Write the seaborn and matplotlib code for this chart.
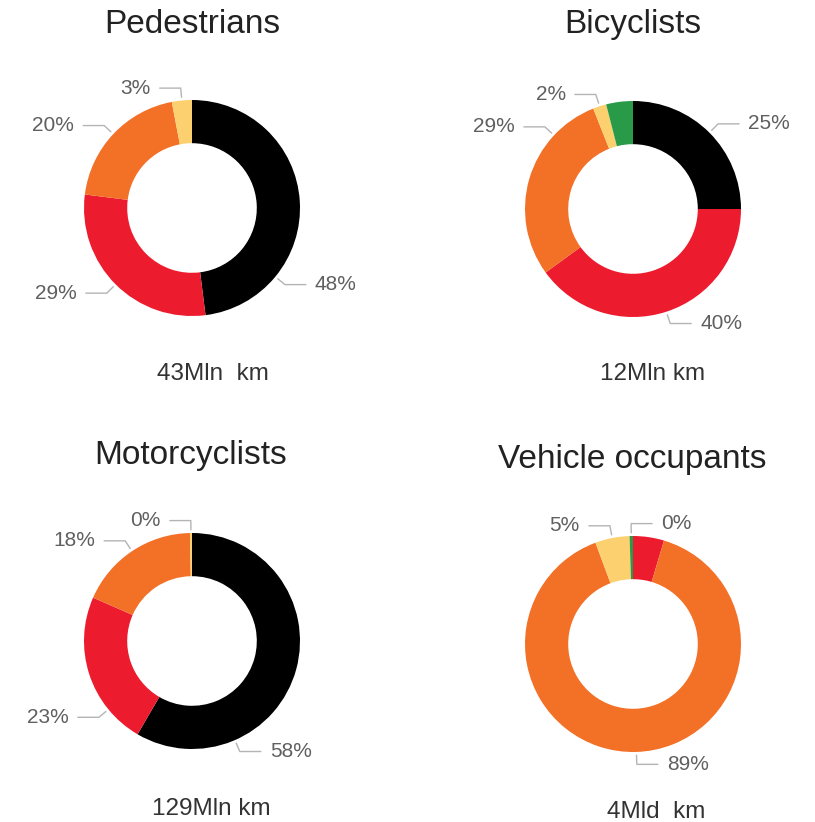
import numpy as np
import matplotlib
matplotlib.use("Agg")
import matplotlib.pyplot as plt
import seaborn as sns

# ---------------- data ----------------
segments = ["black", "red", "orange", "yellow", "green"]
titles = ["Pedestrians", "Bicyclists", "Motorcyclists", "Vehicle occupants"]
subtitles = ["43Mln  km", "12Mln km", "129Mln km", "4Mld  km"]

pedestrians = [48, 29, 20, 3, 0]
bicyclists = [25, 40, 29, 2, 4]
motorcyclists = [58, 23, 18, 0.3, 0]
vehicle_occupants = [0, 4.6, 89, 5.1, 0.5]

pedestrians_labels = ["48%", "29%", "20%", "3%", ""]
bicyclists_labels = ["25%", "40%", "29%", "2%", ""]
motorcyclists_labels = ["58%", "23%", "18%", "0%", ""]
vehicle_occupants_labels = ["", "", "89%", "5%", "0%"]

# ---------------- style / layout ----------------
sns.set_theme(style="white")
plt.rcParams["font.family"] = ["Liberation Sans", "DejaVu Sans"]

palette = sns.color_palette(["#000000", "#EC1C2E", "#F37027", "#FDD06F", "#299A47"])

W, H = 815, 822
fig = plt.figure(figsize=(W / 100, H / 100), dpi=100)
ax = fig.add_axes([0, 0, 1, 1])
ax.set_xlim(0, W)
ax.set_ylim(0, H)
ax.set_aspect("equal")
ax.set_axis_off()

R = 108
centers = [(192, 208), (633, 209), (192, 641), (633, 644)]
title_base = [33, 33, 464, 468]
title_x = [192, 633, 191, 632]
sub_base = [380, 380, 815, 818]
sub_x = [213, 653, 211, 656]

# label placement tweaks (anchor angle in degrees / side) where the
# original chart moved labels away from the slice middle
angle_override = [{0: -39.5}, {2: 137.0}, {0: -66.6, 1: -140.7}, {}]
side_override = [{}, {}, {}, {4: 1}]

all_values = [pedestrians, bicyclists, motorcyclists, vehicle_occupants]
all_labels = [pedestrians_labels, bicyclists_labels, motorcyclists_labels,
              vehicle_occupants_labels]

line_col = "#b4b4b4"
lab_col = "#5f5f5f"

for i, (vals, labs) in enumerate(zip(all_values, all_labels)):
    cx, cy_px = centers[i]
    cy = H - cy_px
    ax.pie(vals, colors=palette, startangle=90, counterclock=False,
           radius=R, center=(cx, cy), frame=True,
           wedgeprops=dict(width=0.4 * R, edgecolor="none", linewidth=0))
    total = float(np.sum(vals))
    cum = np.concatenate([[0], np.cumsum(vals)[:-1]])
    for j, lab in enumerate(labs):
        if not lab:
            continue
        mid = 90 - 360 * (cum[j] + vals[j] / 2) / total
        ang = np.deg2rad(angle_override[i].get(j, mid))
        side = side_override[i].get(j, 1 if np.cos(ang) >= 0 else -1)
        x0, y0 = cx + 1.03 * R * np.cos(ang), cy + 1.03 * R * np.sin(ang)
        x1, y1 = cx + 1.115 * R * np.cos(ang), cy + 1.115 * R * np.sin(ang)
        x2 = x1 + side * 21
        ax.plot([x0, x1, x2], [y0, y1, y1], color=line_col, lw=1.0,
                solid_joinstyle="miter", zorder=1)
        ax.text(x2 + side * 9, y1, lab, ha="left" if side > 0 else "right",
                va="center", fontsize=15, color=lab_col)
    ax.text(title_x[i], H - title_base[i], titles[i], ha="center",
            va="baseline", fontsize=24, color="#222222")
    ax.text(sub_x[i], H - sub_base[i], subtitles[i], ha="center",
            va="baseline", fontsize=17.5, color="#333333")

ax.set_xlim(0, W)
ax.set_ylim(0, H)
fig.savefig("out.png", dpi=100, facecolor="white")
